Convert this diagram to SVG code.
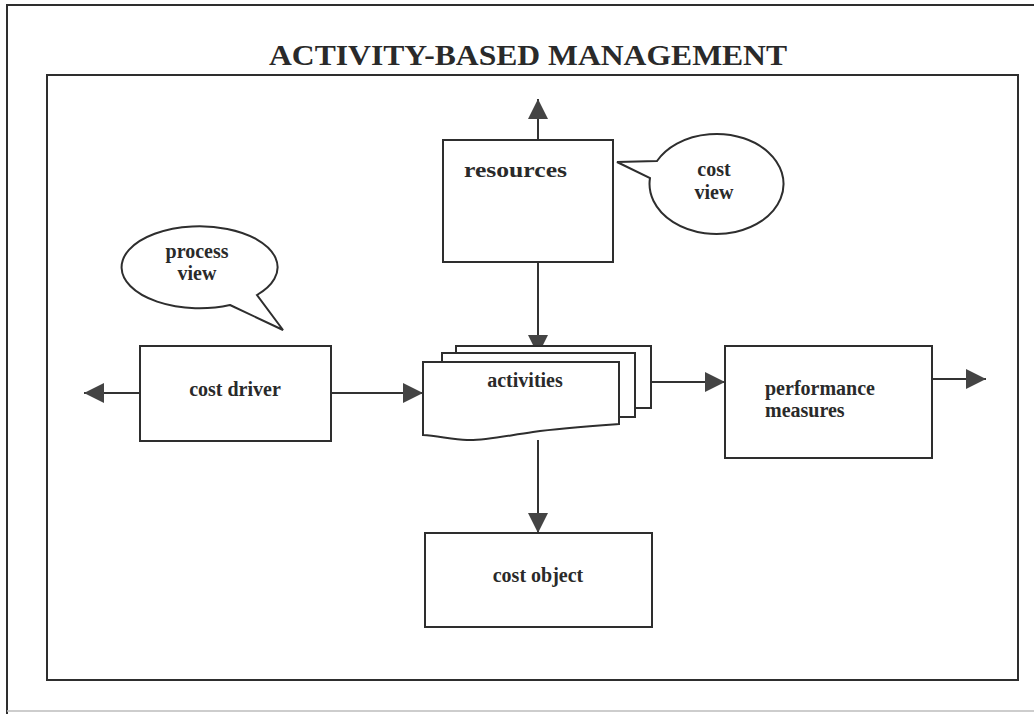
<svg xmlns="http://www.w3.org/2000/svg" width="1034" height="714" viewBox="0 0 1034 714">
  <style>
    .frame { fill: none; stroke: #2e2e2e; stroke-width: 2; }
    .box { fill: #ffffff; stroke: #2e2e2e; stroke-width: 2; }
    .edge { fill: none; stroke: #333333; stroke-width: 2; }
    .lbl { font-family: "Liberation Serif", "Times New Roman", serif; font-weight: bold; font-size: 20px; fill: #2a2a2a; }
    .title { font-family: "Liberation Serif", "Times New Roman", serif; font-weight: bold; font-size: 29px; fill: #2a2a2a; }
  </style>
  <defs>
    <marker id="arrow" viewBox="0 0 20 20" refX="20" refY="10" markerWidth="20" markerHeight="20" markerUnits="userSpaceOnUse" orient="auto">
      <path d="M0,0 L20,10 L0,20 Z" fill="#444444"/>
    </marker>
  </defs>

  <rect width="1034" height="714" fill="#ffffff"/>

  <!-- page frame -->
  <g id="page">
    <path class="frame" d="M7,714 V5 H1034"/>
    <line x1="7" y1="711" x2="1034" y2="711" stroke="#bdbdbd" stroke-width="1.5"/>
    <text class="title" x="528" y="65" text-anchor="middle" textLength="518" lengthAdjust="spacingAndGlyphs">ACTIVITY-BASED MANAGEMENT</text>
    <rect class="frame" x="47" y="75" width="971" height="605"/>
  </g>

  <!-- connectors -->
  <g id="connectors">
    <line class="edge" x1="538" y1="140" x2="538" y2="99" marker-end="url(#arrow)"/>
    <line class="edge" x1="538" y1="262" x2="538" y2="355" marker-end="url(#arrow)"/>
    <line class="edge" x1="140" y1="393" x2="84" y2="393" marker-end="url(#arrow)"/>
    <line class="edge" x1="331" y1="393" x2="423" y2="393" marker-end="url(#arrow)"/>
    <line class="edge" x1="651" y1="382" x2="725" y2="382" marker-end="url(#arrow)"/>
    <line class="edge" x1="932" y1="379" x2="986" y2="379" marker-end="url(#arrow)"/>
    <line class="edge" x1="538" y1="440" x2="538" y2="533" marker-end="url(#arrow)"/>
  </g>

  <!-- resources -->
  <g id="resources">
    <rect class="box" x="443" y="140" width="170" height="122"/>
    <text class="lbl" x="464" y="177" font-size="24" textLength="103" lengthAdjust="spacingAndGlyphs">resources</text>
  </g>

  <!-- cost view callout -->
  <g id="cost-view">
    <path class="box" d="M657,161 L617,162 L650,178 A67,50 0 1 0 657,161 Z"/>
    <text class="lbl" x="714" y="176" text-anchor="middle" font-size="19">cost</text>
    <text class="lbl" x="714" y="199" text-anchor="middle" font-size="19">view</text>
  </g>

  <!-- process view callout -->
  <g id="process-view">
    <path class="box" d="M230,305 L283,330 L257,295 A78,41 0 1 0 230,305 Z"/>
    <text class="lbl" x="197" y="258" text-anchor="middle" font-size="19">process</text>
    <text class="lbl" x="197" y="280" text-anchor="middle" font-size="19">view</text>
  </g>

  <!-- cost driver -->
  <g id="cost-driver">
    <rect class="box" x="140" y="346" width="191" height="95"/>
    <text class="lbl" x="235" y="396" text-anchor="middle">cost driver</text>
  </g>

  <!-- activities (stacked document cards) -->
  <g id="activities">
    <rect class="box" x="456" y="346" width="195" height="62"/>
    <rect class="box" x="442" y="353" width="193" height="64"/>
    <path class="box" d="M423,362 H619 V424 C590,426 560,428 533,432 C505,436 482,441 467,440 C452,439 437,436 423,435 Z"/>
    <text class="lbl" x="525" y="387" text-anchor="middle">activities</text>
  </g>

  <!-- performance measures -->
  <g id="performance-measures">
    <rect class="box" x="725" y="346" width="207" height="112"/>
    <text class="lbl" x="765" y="395">performance</text>
    <text class="lbl" x="765" y="417">measures</text>
  </g>

  <!-- cost object -->
  <g id="cost-object">
    <rect class="box" x="425" y="533" width="227" height="94"/>
    <text class="lbl" x="538" y="582" text-anchor="middle">cost object</text>
  </g>
</svg>
